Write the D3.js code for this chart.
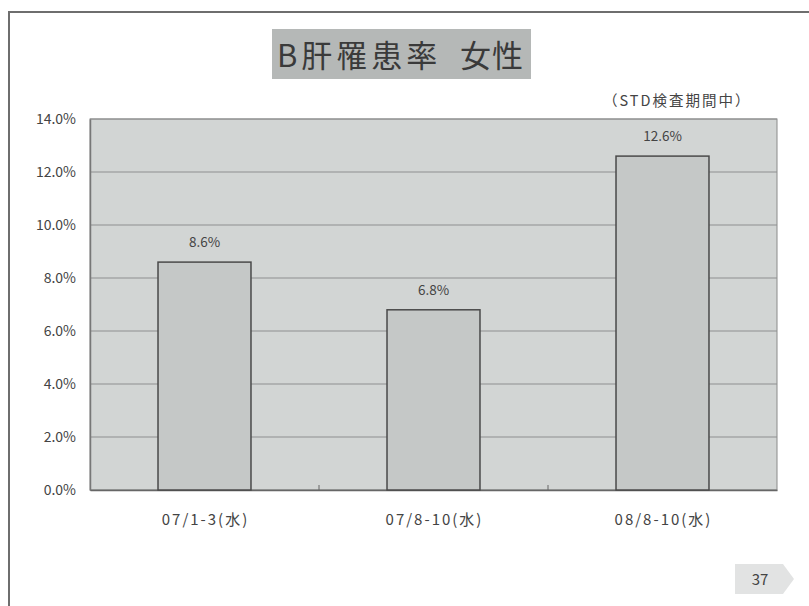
<!DOCTYPE html>
<html>
<head>
<meta charset="utf-8">
<script src="https://cdn.jsdelivr.net/npm/d3@7/dist/d3.min.js"></script>
<style>
  html, body { margin: 0; padding: 0; background: #ffffff; }
  svg { display: block; }
  text { font-family: "Noto Sans CJK JP", "DejaVu Sans", sans-serif; }
</style>
</head>
<body>
<svg id="chart" width="809" height="606"></svg>
<script>
// Hepatitis B prevalence, women, by survey period
const categories = ["07/1-3(水)", "07/8-10(水)", "08/8-10(水)"];
const rates = [8.6, 6.8, 12.6];
const yTicks = [0, 2, 4, 6, 8, 10, 12, 14];
const titleParts = ["B肝罹患率", "女性"];
const subtitleText = "（STD検査期間中）";
const pageNumber = "37";

const svg = d3.select("#chart");

// slide frame
svg.append("path")
  .attr("d", "M9,606 V12 H809")
  .attr("fill", "none")
  .attr("stroke", "#6e6e6e")
  .attr("stroke-width", 2);

// title box
svg.append("rect")
  .attr("x", 272).attr("y", 29).attr("width", 259).attr("height", 50)
  .attr("fill", "#b5b8b7");
const title = svg.append("text")
  .attr("y", 67)
  .attr("font-size", 31)
  .attr("fill", "#3a3a3a");
title.append("tspan").attr("x", 277).attr("letter-spacing", 4).text(titleParts[0]);
title.append("tspan").attr("x", 460).attr("letter-spacing", 1).text(titleParts[1]);

svg.append("text")
  .attr("x", 603).attr("y", 106)
  .attr("font-size", 14.5)
  .attr("letter-spacing", 2)
  .attr("fill", "#444")
  .text(subtitleText);

// plot area
const m = { left: 90, top: 119, right: 777, bottom: 490 };

const x = d3.scaleBand()
  .domain(categories)
  .range([m.left, m.right])
  .paddingInner(0.594)
  .paddingOuter(0.297);

const y = d3.scaleLinear()
  .domain([0, 14])
  .range([m.bottom, m.top]);

svg.append("rect")
  .attr("x", m.left).attr("y", m.top)
  .attr("width", m.right - m.left).attr("height", m.bottom - m.top)
  .attr("fill", "#d2d5d4")
  .attr("stroke", "#8a8a8a")
  .attr("stroke-width", 1);

// horizontal gridlines
svg.append("g")
  .selectAll("line")
  .data(yTicks)
  .join("line")
  .attr("x1", m.left).attr("x2", m.right)
  .attr("y1", d => y(d)).attr("y2", d => y(d))
  .attr("stroke", "#8e9090")
  .attr("stroke-width", 1.2);

// y axis
const yAxis = svg.append("g")
  .attr("transform", `translate(${m.left},0)`)
  .call(d3.axisLeft(y).tickValues(yTicks).tickFormat(d => d.toFixed(1) + "%").tickSize(0).tickPadding(14));
yAxis.attr("font-family", null);
yAxis.select(".domain").attr("stroke", "#777").attr("stroke-width", 1.5);
yAxis.selectAll("text")
  .attr("font-size", 14)
  .attr("fill", "#444");

// x axis with category separators pointing inward
const xAxis = svg.append("g")
  .attr("transform", `translate(0,${m.bottom})`)
  .call(d3.axisBottom(x).tickSize(0).tickPadding(24));
xAxis.attr("font-family", null);
xAxis.select(".domain").attr("stroke", "#666").attr("stroke-width", 1.5);
xAxis.selectAll("text")
  .attr("font-size", 15)
  .attr("letter-spacing", 2)
  .attr("dx", 1)
  .attr("fill", "#444");
xAxis.selectAll(".sep")
  .data(categories.slice(1))
  .join("line")
  .attr("class", "sep")
  .attr("x1", d => x(d) - x.step() * x.paddingInner() / 2)
  .attr("x2", d => x(d) - x.step() * x.paddingInner() / 2)
  .attr("y1", 0).attr("y2", -5)
  .attr("stroke", "#666");

// bars
svg.append("g")
  .selectAll("rect")
  .data(rates)
  .join("rect")
  .attr("x", (d, i) => x(categories[i]))
  .attr("y", d => y(d))
  .attr("width", x.bandwidth())
  .attr("height", d => y(0) - y(d))
  .attr("fill", "#c5c8c7")
  .attr("stroke", "#4a4a4a")
  .attr("stroke-width", 1.5);

// value labels
svg.append("g")
  .selectAll("text")
  .data(rates)
  .join("text")
  .attr("x", (d, i) => x(categories[i]) + x.bandwidth() / 2)
  .attr("y", d => y(d) - 15)
  .attr("text-anchor", "middle")
  .attr("font-size", 13.5)
  .attr("fill", "#444")
  .text(d => d.toFixed(1) + "%");

// page number tab
svg.append("path")
  .attr("d", "M735,564 H783 L794,579 L783,594 H735 Z")
  .attr("fill", "#e2e3e3");
svg.append("text")
  .attr("x", 760).attr("y", 585)
  .attr("text-anchor", "middle")
  .attr("font-size", 15)
  .attr("fill", "#444")
  .text(pageNumber);
</script>
</body>
</html>
